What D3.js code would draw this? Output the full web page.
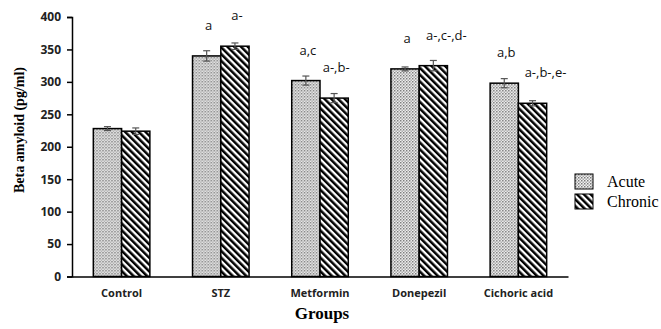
<!DOCTYPE html>
<html>
<head>
<meta charset="utf-8">
<script src="https://cdn.jsdelivr.net/npm/d3@7"></script>
<style>
  body { margin: 0; background: #fff; }
</style>
</head>
<body>
<div id="chart"></div>
<script>
const width = 661
const height = 329

// data
const groups = ["Control", "STZ", "Metformin", "Donepezil", "Cichoric acid"];
const series = ["Acute", "Chronic"];
const acute = [228, 340, 302, 320, 298];
const chronic = [224, 355, 275, 325, 267];
const acuteErr = [3, 8, 7, 3, 7];
const chronicErr = [5, 5, 7, 8, 4];
const acuteSig = ["", "a", "a,c", "a", "a,b"];
const chronicSig = ["", "a-", "a-,b-", "a-,c-,d-", "a-,b-,e-"];
const yTicks = [0, 50, 100, 150, 200, 250, 300, 350, 400];

const svg = d3.select("#chart")
  .append("svg")
  .attr("width", width)
  .attr("height", height)

const defs = svg.append("defs");

// dotted fill for acute
const dots = defs.append("pattern")
  .attr("id", "dots")
  .attr("patternUnits", "userSpaceOnUse")
  .attr("width", 3)
  .attr("height", 3);
dots.append("rect").attr("width", 3).attr("height", 3).attr("fill", "#f2f2f2");
dots.append("rect").attr("x", 0).attr("y", 0).attr("width", 1.5).attr("height", 1.5).attr("fill", "#7a7a7a");
dots.append("rect").attr("x", 1.5).attr("y", 1.5).attr("width", 1.5).attr("height", 1.5).attr("fill", "#a8a8a8");

// diagonal stripes for chronic
const stripes = defs.append("pattern")
  .attr("id", "stripes")
  .attr("patternUnits", "userSpaceOnUse")
  .attr("width", 4.8)
  .attr("height", 10)
  .attr("patternTransform", "rotate(-45)");
stripes.append("rect").attr("width", 4.8).attr("height", 10).attr("fill", "#fff");
stripes.append("rect").attr("width", 2.5).attr("height", 10).attr("fill", "#000");

const x0 = d3.scaleBand()
  .domain(groups)
  .range([72, 568])
  .paddingInner(0.43)
  .paddingOuter(0.215);

const x1 = d3.scaleBand()
  .domain(series)
  .range([0, x0.bandwidth()]);

const y = d3.scaleLinear()
  .domain([0, 400])
  .range([276.5, 17]);

const fills = { Acute: "url(#dots)", Chronic: "url(#stripes)" };

const rows = groups.map((g, i) => ({
  group: g,
  bars: [
    { key: "Acute", value: acute[i], err: acuteErr[i], sig: acuteSig[i] },
    { key: "Chronic", value: chronic[i], err: chronicErr[i], sig: chronicSig[i] }
  ]
}));

const gGroups = svg.selectAll("g.grp")
  .data(rows)
  .join("g")
  .attr("class", "grp")
  .attr("transform", d => `translate(${x0(d.group)},0)`);

gGroups.selectAll("rect.bar")
  .data(d => d.bars)
  .join("rect")
  .attr("class", "bar")
  .attr("x", d => x1(d.key))
  .attr("y", d => y(d.value))
  .attr("width", x1.bandwidth())
  .attr("height", d => y(0) - y(d.value))
  .attr("fill", d => fills[d.key])
  .attr("stroke", "#000")
  .attr("stroke-width", 1.5);

// error bars
const eb = gGroups.selectAll("g.err")
  .data(d => d.bars)
  .join("g")
  .attr("class", "err")
  .attr("stroke", "#555")
  .attr("stroke-width", 1.2);
eb.append("line")
  .attr("x1", d => x1(d.key) + x1.bandwidth() / 2)
  .attr("x2", d => x1(d.key) + x1.bandwidth() / 2)
  .attr("y1", d => y(d.value + d.err))
  .attr("y2", d => y(d.value - d.err));
eb.append("line")
  .attr("x1", d => x1(d.key) + x1.bandwidth() / 2 - 3.5)
  .attr("x2", d => x1(d.key) + x1.bandwidth() / 2 + 3.5)
  .attr("y1", d => y(d.value + d.err))
  .attr("y2", d => y(d.value + d.err));
eb.append("line")
  .attr("x1", d => x1(d.key) + x1.bandwidth() / 2 - 3.5)
  .attr("x2", d => x1(d.key) + x1.bandwidth() / 2 + 3.5)
  .attr("y1", d => y(d.value - d.err))
  .attr("y2", d => y(d.value - d.err));

// significance letters
gGroups.selectAll("text.sig")
  .data(d => d.bars.filter(b => b.sig))
  .join("text")
  .attr("class", "sig")
  .attr("x", d => x1(d.key) + x1.bandwidth() / 2 + (d.sig.length > 5 ? 13 : 2))
  .attr("y", d => y(d.value) - 26)
  .attr("text-anchor", "middle")
  .attr("font-family", "'Open Sans', sans-serif")
  .attr("font-size", 13)
  .attr("fill", "#111")
  .text(d => d.sig);

// y axis
const yAxis = svg.append("g")
  .attr("transform", "translate(72,0)")
  .call(d3.axisLeft(y).tickValues(yTicks).tickSize(5).tickPadding(6));
yAxis.select(".domain").attr("stroke", "#000").attr("stroke-width", 1.5);
yAxis.selectAll(".tick line").attr("stroke", "#000").attr("stroke-width", 1.5);
yAxis.selectAll(".tick text")
  .attr("font-family", "'Open Sans', sans-serif")
  .attr("font-weight", "bold")
  .attr("font-size", 12)
  .attr("fill", "#222");

// x axis
const xAxis = svg.append("g")
  .attr("transform", `translate(0,${y(0)})`)
  .call(d3.axisBottom(x0).tickSize(0).tickPadding(13));
xAxis.select(".domain").attr("stroke", "#000").attr("stroke-width", 1.5);
xAxis.selectAll(".tick text")
  .attr("font-family", "'Open Sans', sans-serif")
  .attr("font-weight", "bold")
  .attr("font-size", 11)
  .attr("fill", "#222");

// axis titles
svg.append("text")
  .attr("transform", "translate(24,130) rotate(-90)")
  .attr("text-anchor", "middle")
  .attr("font-family", "'Liberation Serif', 'Times New Roman', serif")
  .attr("font-weight", "bold")
  .attr("font-size", 14)
  .text("Beta amyloid (pg/ml)");

svg.append("text")
  .attr("x", 322)
  .attr("y", 319)
  .attr("text-anchor", "middle")
  .attr("font-family", "'Liberation Serif', 'Times New Roman', serif")
  .attr("font-weight", "bold")
  .attr("font-size", 17)
  .text("Groups");

// legend
const legend = svg.append("g")
  .attr("transform", "translate(575,174)");
const li = legend.selectAll("g")
  .data(series)
  .join("g")
  .attr("transform", (d, i) => `translate(0,${i * 20})`);
li.append("rect")
  .attr("width", 18)
  .attr("height", 15)
  .attr("fill", d => fills[d])
  .attr("stroke", "#000")
  .attr("stroke-width", 1);
li.append("text")
  .attr("x", 32)
  .attr("y", 12.5)
  .attr("font-family", "'Liberation Serif', 'Times New Roman', serif")
  .attr("font-size", 16)
  .text(d => d);
</script>
</body>
</html>
